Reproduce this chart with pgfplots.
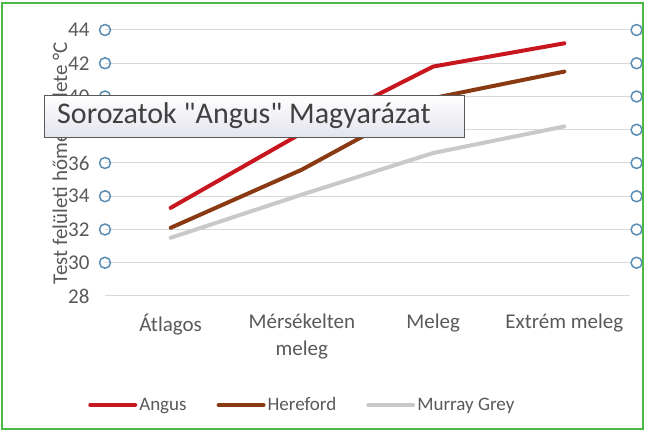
\documentclass[border=0pt]{standalone}
\usepackage{pgfplots}
\pgfplotsset{compat=1.18}
\usepackage{fontspec}
\setmainfont{Carlito}
\newfontfamily\tipfont{Carlito}[Ligatures=TeXOff]
\definecolor{angus}{HTML}{C8161E}
\definecolor{hereford}{HTML}{8A3A12}
\definecolor{murray}{HTML}{C9C9C9}
\definecolor{txt}{HTML}{595959}
\definecolor{gridc}{HTML}{D9D9D9}
\definecolor{handle}{HTML}{5A8DB3}
\definecolor{frame}{HTML}{4CB848}
\definecolor{tipbot}{HTML}{E4E4EE}

\begin{document}
\begin{tikzpicture}
\begin{axis}[
  scale only axis,
  width=525pt, height=266pt,
  xmin=-0.5, xmax=3.5,
  ymin=28, ymax=44,
  ytick={28,30,...,44},
  xtick={0,1,2,3},
  xticklabels={\'Atlagos, M\'ers\'ekelten\\meleg, Meleg, Extr\'em meleg},
  xticklabel style={align=center, font=\fontsize{21}{27}\selectfont, text=txt, yshift=-14pt},
  yticklabel style={font=\fontsize{21}{22}\selectfont, text=txt, xshift=-12pt},
  /pgf/number format/assume math mode=true,
  major tick length=0pt,
  axis x line*=bottom,
  axis y line*=left,
  x axis line style={draw=gridc, line width=1pt, -},
  y axis line style={draw=none},
  ymajorgrids,
  major grid style={draw=gridc, line width=1pt},
  ylabel={Test felületi hőmérséklete °C},
  ylabel style={font=\fontsize{21}{23}\selectfont, text=txt},
  ylabel shift=-6pt,
  clip=false,
  legend columns=3,
  legend style={
    at={(-0.038,-0.41)}, anchor=west,
    draw=none, fill=none,
    font=\fontsize{19}{21}\selectfont, text=txt,
    /tikz/every even column/.append style={column sep=28pt},
  },
  legend image code/.code={\draw[#1] (0pt,0pt) -- (45pt,0pt);},
  every axis plot/.append style={line width=4pt, line cap=round, line join=round},
]
\addplot[color=angus] coordinates {(0,33.3) (1,37.8) (2,41.8) (3,43.2)};
\addplot[color=hereford] coordinates {(0,32.1) (1,35.6) (2,39.9) (3,41.5)};
\addplot[color=murray] coordinates {(0,31.5) (1,34.1) (2,36.6) (3,38.2)};
\legend{Angus, Hereford, Murray Grey}
\addplot[only marks, mark=o, mark size=5.5pt, mark options={draw=handle, fill=white, line width=1.5pt}, forget plot]
  coordinates {(-0.5,30) (-0.5,32) (-0.5,34) (-0.5,36) (-0.5,38) (-0.5,40) (-0.5,42) (-0.5,44)
               (3.55,30) (3.55,32) (3.55,34) (3.55,36) (3.55,38) (3.55,40) (3.55,42) (3.55,44)};
\coordinate (tipSW) at (rel axis cs:-0.1143,0.5977);
\coordinate (tipNE) at (rel axis cs:0.6857,0.7556);
\coordinate (tipT) at (rel axis cs:-0.0914,0.677);
\end{axis}
% tooltip box, drawn over the axis labels as well
\path[draw=gray!70!black, line width=1pt, top color=white, bottom color=tipbot]
  (tipSW) rectangle (tipNE);
\node[anchor=west, inner sep=0pt, font=\tipfont\fontsize{30}{32}\selectfont, text=black!75]
  at (tipT) {Sorozatok "Angus" Magyarázat};
\draw[frame, line width=2pt] ([xshift=-103pt,yshift=-133pt]current axis.south west) rectangle ([xshift=538pt,yshift=293pt]current axis.south west);
\pgfresetboundingbox
\path ([xshift=-105pt,yshift=-135pt]current axis.south west) rectangle ([xshift=541pt,yshift=296pt]current axis.south west);
\end{tikzpicture}
\end{document}
